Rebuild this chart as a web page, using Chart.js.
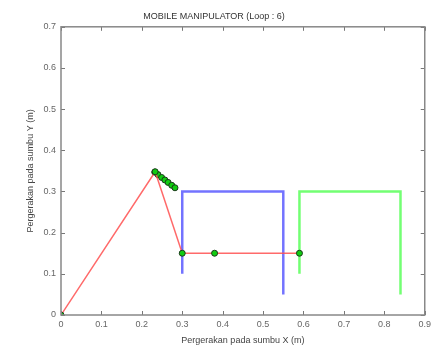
<!DOCTYPE html>
<html><head><meta charset="utf-8">
<script src="https://cdn.jsdelivr.net/npm/chart.js@4"></script>
<style>html,body{margin:0;padding:0;background:#fff}#w{width:435px;height:357px}</style>
</head><body><div id="w"><canvas id="c"></canvas></div>
<script>
const xTicks = [0,0.1,0.2,0.3,0.4,0.5,0.6,0.7,0.8,0.9];
const yTicks = [0,0.1,0.2,0.3,0.4,0.5,0.6,0.7];
const armX = [0, 0.233, 0.30, 0.38, 0.59];
const armY = [0, 0.348, 0.15, 0.15, 0.15];
const chainX = [0.232,0.240,0.249,0.257,0.265,0.274,0.282];
const chainY = [0.347,0.341,0.334,0.328,0.322,0.315,0.309];
const blueX = [0.30,0.30,0.55,0.55];
const blueY = [0.10,0.30,0.30,0.05];
const greenX = [0.59,0.59,0.84,0.84];
const greenY = [0.10,0.30,0.30,0.05];
const pts = (xs,ys)=>xs.map((x,i)=>({x,y:ys[i]}));

const boxTicks = {
  id:'boxTicks',
  afterDatasetsDraw(chart){
    const {ctx, chartArea:a, scales:{x,y}} = chart;
    ctx.save();
    ctx.strokeStyle='#777'; ctx.lineWidth=1;
    ctx.beginPath();
    xTicks.forEach(v=>{const p=Math.round(x.getPixelForValue(v))+0.5;
      ctx.moveTo(p,a.bottom);ctx.lineTo(p,a.bottom-4);ctx.moveTo(p,a.top);ctx.lineTo(p,a.top+4);});
    yTicks.forEach(v=>{const p=Math.round(y.getPixelForValue(v))+0.5;
      ctx.moveTo(a.left,p);ctx.lineTo(a.left+4,p);ctx.moveTo(a.right,p);ctx.lineTo(a.right-4,p);});
    ctx.stroke();
    ctx.strokeStyle='#888'; ctx.lineWidth=1.5;
    ctx.strokeRect(a.left,a.top,a.right-a.left,a.bottom-a.top);
    ctx.restore();
  }
};

new Chart(document.getElementById('c'),{
  type:'scatter',
  data:{datasets:[
    {data:pts(blueX,blueY),showLine:true,borderColor:'rgba(90,90,255,0.85)',borderWidth:2.5,pointRadius:0,order:3},
    {data:pts(greenX,greenY),showLine:true,borderColor:'rgba(100,255,100,0.9)',borderWidth:2.5,pointRadius:0,order:3},
    {data:pts(armX,armY),showLine:true,borderColor:'rgba(255,80,80,0.85)',borderWidth:1.5,pointRadius:3,
      pointBackgroundColor:'#11cc11',pointBorderColor:'#1a3a1a',pointBorderWidth:1,order:1},
    {data:pts(chainX,chainY),showLine:false,pointRadius:3,
      pointBackgroundColor:'#11cc11',pointBorderColor:'#1a3a1a',pointBorderWidth:1,order:2}
  ]},
  options:{
    responsive:true,maintainAspectRatio:false,animation:false,
    layout:{padding:{left:0,right:7,top:0,bottom:0}},
    plugins:{legend:{display:false},tooltip:{enabled:false},
      title:{display:true,text:'MOBILE MANIPULATOR (Loop : 6)',color:'#333',
        font:{family:'Liberation Sans, Arial, sans-serif',size:9,weight:'normal'},padding:{top:11,bottom:5}}},
    scales:{
      x:{type:'linear',min:0,max:0.9,
        afterBuildTicks:s=>{s.ticks=xTicks.map(v=>({value:v}));},
        afterFit:s=>{s.height=42;},
        grid:{display:false,drawTicks:false},border:{display:false},
        ticks:{color:'#666',padding:4,maxRotation:0,font:{family:'Liberation Sans, Arial, sans-serif',size:9},callback:v=>String(+v.toFixed(1))},
        title:{display:true,text:'Pergerakan pada sumbu X (m)',color:'#444',padding:11,font:{family:'Liberation Sans, Arial, sans-serif',size:9}}},
      y:{type:'linear',min:0,max:0.7,
        afterBuildTicks:s=>{s.ticks=yTicks.map(v=>({value:v}));},
        afterFit:s=>{s.width=61;},
        grid:{display:false,drawTicks:false},border:{display:false},
        ticks:{color:'#666',padding:5,font:{family:'Liberation Sans, Arial, sans-serif',size:9},callback:v=>String(+v.toFixed(1))},
        title:{display:true,text:'Pergerakan pada sumbu Y (m)',color:'#444',padding:25,font:{family:'Liberation Sans, Arial, sans-serif',size:9}}}
    }
  },
  plugins:[boxTicks]
});
</script></body></html>
